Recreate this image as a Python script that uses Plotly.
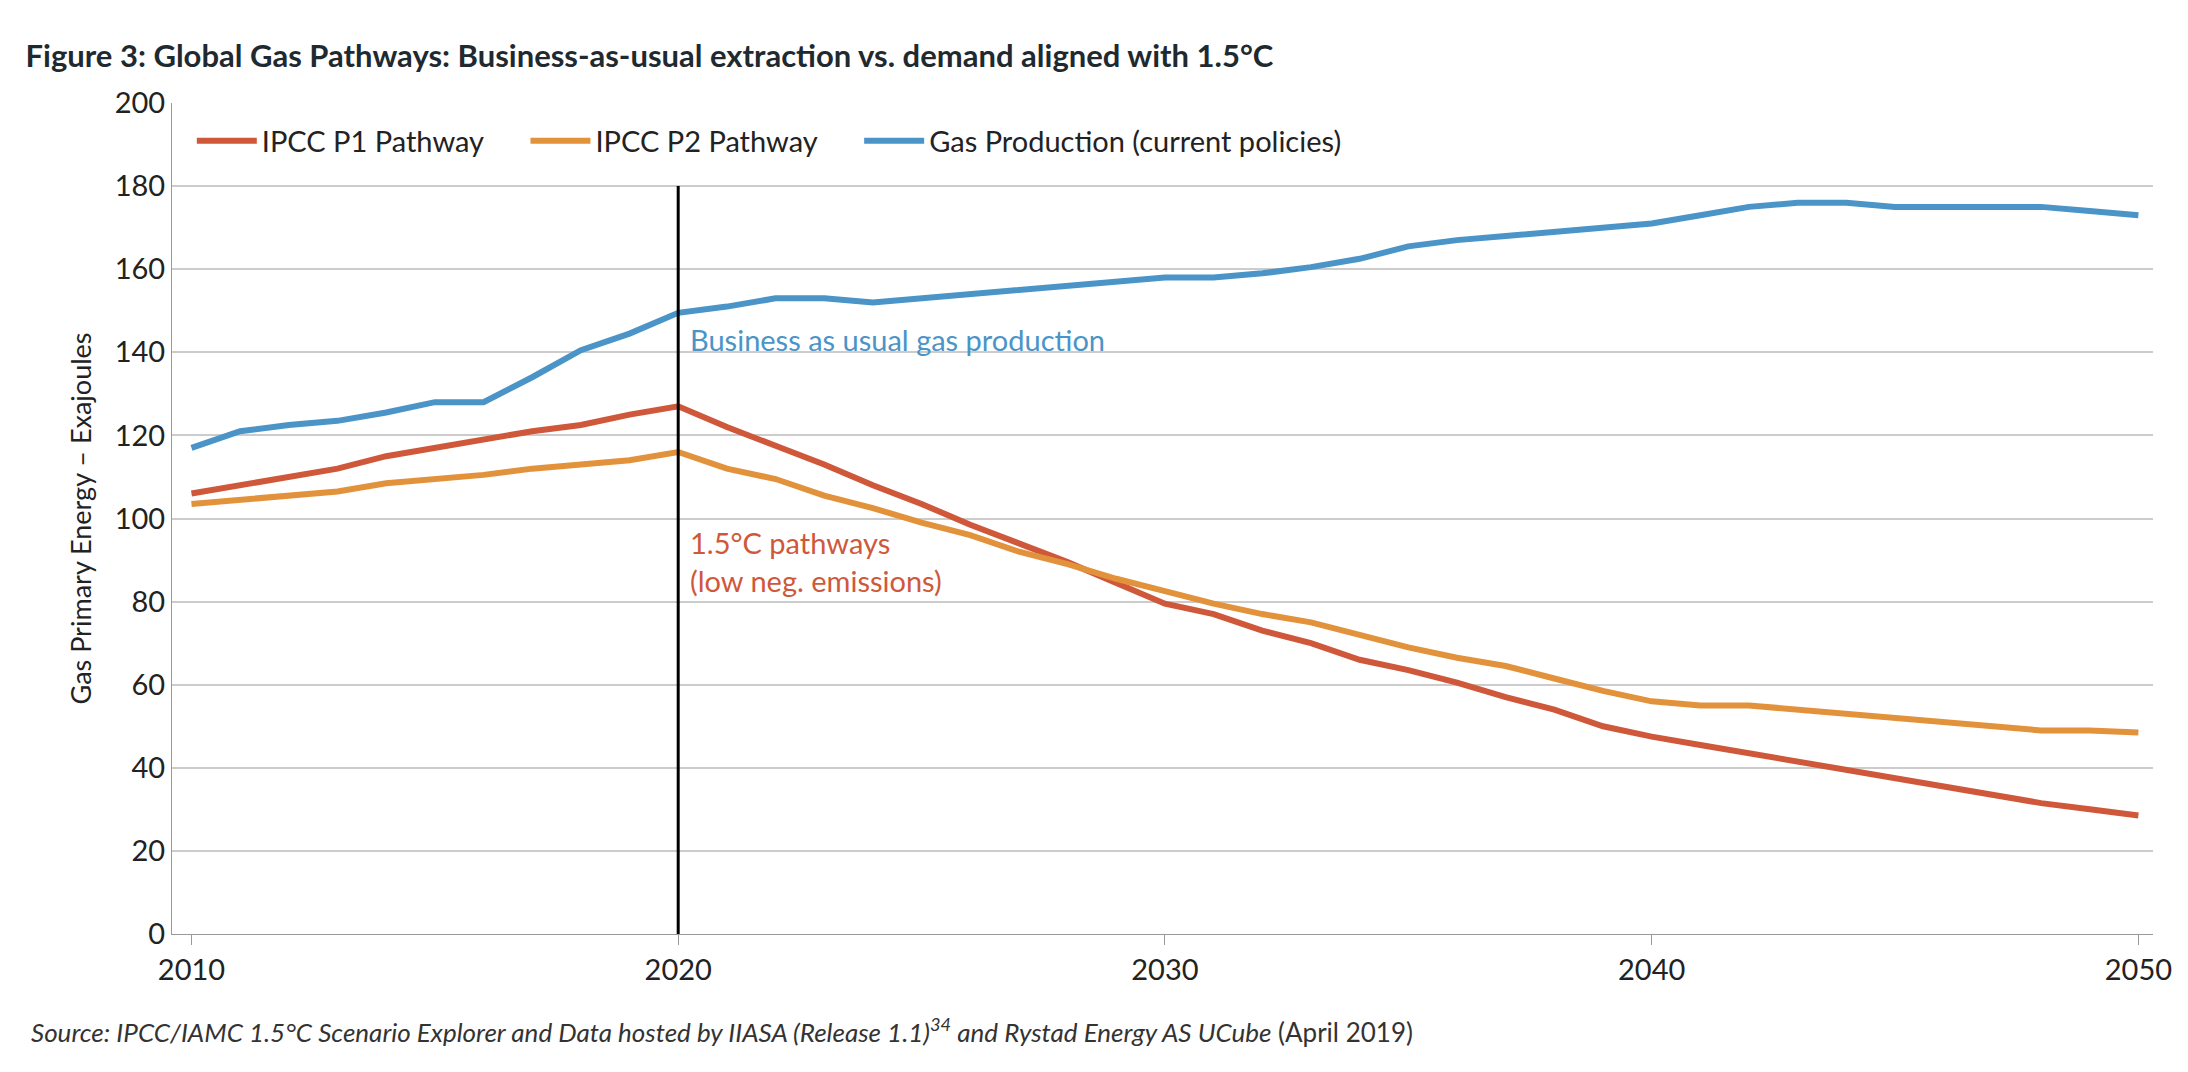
import plotly.graph_objects as go

years = list(range(2010, 2051))
gas_production = [117, 121, 122.5, 123.5, 125.5, 128, 128, 134, 140.5, 144.5,
                  149.5, 151, 153, 153, 152, 153, 154, 155, 156, 157,
                  158, 158, 159, 160.5, 162.5, 165.5, 167, 168, 169, 170,
                  171, 173, 175, 176, 176, 175, 175, 175, 175, 174, 173]
p1 = [106, 108, 110, 112, 115, 117, 119, 121, 122.5, 125,
      127, 122, 117.5, 113, 108, 103.5, 98.5, 94, 89.5, 84.5,
      79.5, 77, 73, 70, 66, 63.5, 60.5, 57, 54, 50,
      47.5, 45.5, 43.5, 41.5, 39.5, 37.5, 35.5, 33.5, 31.5, 30, 28.5]
p2 = [103.5, 104.5, 105.5, 106.5, 108.5, 109.5, 110.5, 112, 113, 114,
      116, 112, 109.5, 105.5, 102.5, 99, 96, 92, 89, 85.5,
      82.5, 79.5, 77, 75, 72, 69, 66.5, 64.5, 61.5, 58.5,
      56, 55, 55, 54, 53, 52, 51, 50, 49, 49, 48.5]

RED, ORANGE, BLUE = "#D0583A", "#E3923C", "#4A94C8"
font = "Lato, Open Sans, sans-serif"

fig = go.Figure()
fig.add_trace(go.Scatter(x=years, y=p1, name="IPCC P1 Pathway     ", mode="lines", line=dict(color=RED, width=6)))
fig.add_trace(go.Scatter(x=years, y=p2, name="IPCC P2 Pathway     ", mode="lines", line=dict(color=ORANGE, width=6)))
fig.add_trace(go.Scatter(x=years, y=gas_production, name="Gas Production (current policies)", mode="lines", line=dict(color=BLUE, width=6)))

fig.add_shape(type="line", x0=2020, x1=2020, y0=0, y1=180, xref="x", yref="y", line=dict(color="black", width=3))
fig.add_annotation(x=2020.2, y=143, text="Business as usual gas production", showarrow=False,
                   xanchor="left", font=dict(color=BLUE, size=29, family=font))
fig.add_annotation(x=2020.2, y=99, text="1.5°C pathways<br>(low neg. emissions)", showarrow=False,
                   xanchor="left", yanchor="top", align="left", font=dict(color=RED, size=29, family=font))

fig.update_layout(
    width=2188, height=1072, paper_bgcolor="white", plot_bgcolor="white",
    margin=dict(l=164, r=43, t=95, b=146),
    font=dict(family=font, size=28, color="#222"),
    title=dict(text="<b>Figure 3: Global Gas Pathways: Business-as-usual extraction vs. demand aligned with 1.5°C</b>",
               x=0.008, xanchor="left", y=0.965, font=dict(size=31, color="#1f2a30")),
    legend=dict(orientation="h", x=0.01, y=0.985, yanchor="top", font=dict(size=29), bgcolor="rgba(0,0,0,0)",
                itemwidth=60, tracegroupgap=0),
    xaxis=dict(range=[2009.6, 2050.3], tickvals=[2010, 2020, 2030, 2040, 2050], showgrid=False,
               showline=True, linecolor="#999", ticks="outside", tickcolor="#999", ticklen=10, tickfont=dict(size=29)),
    yaxis=dict(range=[0, 200], dtick=20, gridcolor="#cccccc", gridwidth=1.5, showline=True, linecolor="#999",
               zeroline=False, title=dict(text="Gas Primary Energy – Exajoules", font=dict(size=27)), tickfont=dict(size=29)),
)
fig.add_annotation(xref="paper", yref="paper", x=-0.072, y=-0.14, xanchor="left", showarrow=False,
                   text="<i>Source: IPCC/IAMC 1.5°C Scenario Explorer and Data hosted by IIASA (Release 1.1)<sup>34</sup> and Rystad Energy AS UCube</i> (April 2019)",
                   font=dict(size=26, color="#333"))
fig.write_html("out.html")
